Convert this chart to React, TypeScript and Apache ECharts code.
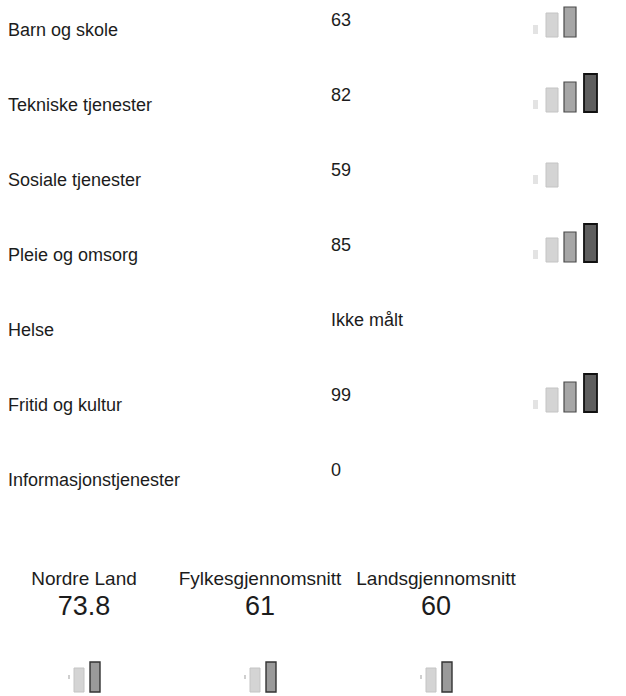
import React, { useEffect, useRef } from 'react';
import * as echarts from 'echarts';

const categories = [
  'Barn og skole',
  'Tekniske tjenester',
  'Sosiale tjenester',
  'Pleie og omsorg',
  'Helse',
  'Fritid og kultur',
  'Informasjonstjenester',
];
const values: (number | null)[] = [63, 82, 59, 85, null, 99, 0];
const missingLabel = 'Ikke målt';

const summaryNames = ['Nordre Land', 'Fylkesgjennomsnitt', 'Landsgjennomsnitt'];
const summaryValues = [73.8, 61, 60];

// a bar of the rating icon is shown when the value reaches its threshold
const levelThresholds = [1, 50, 60, 80];

const FONT = "'Liberation Sans', Arial, sans-serif";
const TEXT = '#1c1c1c';

function levelOf(v: number | null): number {
  if (v == null) return 0;
  return levelThresholds.filter((t) => v >= t).length;
}

type BarSpec = { dx: number; w: number; h: number; lift: number; fill: string; stroke?: string; lw?: number };

const TOP_ICON: BarSpec[] = [
  { dx: 1, w: 5, h: 9, lift: 3, fill: '#e3e3e3' },
  { dx: 14, w: 12, h: 24, lift: 0, fill: '#d4d4d4', stroke: '#c4c4c4', lw: 1 },
  { dx: 32, w: 12, h: 30, lift: 0, fill: '#a6a6a6', stroke: '#4a4a4a', lw: 1.2 },
  { dx: 52, w: 13, h: 38, lift: 0, fill: '#5e5e5e', stroke: '#111', lw: 1.8 },
];

const BOTTOM_ICON: BarSpec[] = [
  { dx: 0, w: 2, h: 4, lift: 13, fill: '#cfcfcf' },
  { dx: 6, w: 10, h: 24, lift: 0, fill: '#d4d4d4', stroke: '#c4c4c4', lw: 1 },
  { dx: 22, w: 10, h: 30, lift: 0, fill: '#9a9a9a', stroke: '#333', lw: 1.4 },
  { dx: 40, w: 11, h: 38, lift: 0, fill: '#5e5e5e', stroke: '#111', lw: 1.8 },
];

function iconBars(x0: number, bottom: number, level: number, spec: BarSpec[]) {
  const out: any[] = [];
  for (let k = 0; k < level && k < spec.length; k++) {
    const b = spec[k];
    out.push({
      type: 'rect',
      shape: { x: x0 + b.dx, y: bottom - b.lift - b.h, width: b.w, height: b.h },
      style: { fill: b.fill, stroke: b.stroke || null, lineWidth: b.lw || 0 },
    });
  }
  return out;
}

export default function App() {
  const ref = useRef<HTMLDivElement>(null);

  useEffect(() => {
    if (!ref.current) return;
    const chart = echarts.init(ref.current, undefined, { renderer: 'svg' });

    const option: any = {
      animation: false,
      backgroundColor: '#ffffff',
      grid: [
        { left: 0, top: 30, width: 626, height: 450 },
        { left: 84, top: 578, width: 352, height: 114 },
      ],
      xAxis: [
        { type: 'value', gridIndex: 0, min: 0, max: 626, show: false },
        { type: 'value', gridIndex: 1, min: 0, max: 2, show: false },
      ],
      yAxis: [
        { type: 'value', gridIndex: 0, min: 0, max: categories.length - 1, inverse: true, show: false },
        { type: 'value', gridIndex: 1, min: 0, max: 1, show: false },
      ],
      series: [
        {
          type: 'custom',
          xAxisIndex: 0,
          yAxisIndex: 0,
          data: categories.map((_, i) => [0, i]),
          renderItem: (params: any, api: any) => {
            const i = params.dataIndex;
            const cy = api.coord([0, i])[1];
            const v = values[i];
            return {
              type: 'group',
              children: [
                {
                  type: 'text',
                  style: {
                    x: 8, y: cy, text: categories[i], fontSize: 18, fontFamily: FONT,
                    fill: TEXT, align: 'left', verticalAlign: 'middle',
                  },
                },
                {
                  type: 'text',
                  style: {
                    x: 331, y: cy - 10, text: v == null ? missingLabel : String(v), fontSize: 18,
                    fontFamily: FONT, fill: TEXT, align: 'left', verticalAlign: 'middle',
                  },
                },
                ...iconBars(532, cy + 7, levelOf(v), TOP_ICON),
              ],
            };
          },
        },
        {
          type: 'custom',
          xAxisIndex: 1,
          yAxisIndex: 1,
          data: summaryNames.map((_, i) => [i, 0]),
          renderItem: (params: any, api: any) => {
            const i = params.dataIndex;
            const [cx, bottom] = api.coord([i, 0]);
            const v = summaryValues[i];
            return {
              type: 'group',
              children: [
                {
                  type: 'text',
                  style: {
                    x: cx, y: bottom - 114, text: summaryNames[i], fontSize: 19, fontFamily: FONT,
                    fill: TEXT, align: 'center', verticalAlign: 'middle',
                  },
                },
                {
                  type: 'text',
                  style: {
                    x: cx, y: bottom - 86, text: String(v), fontSize: 27, fontFamily: FONT,
                    fill: TEXT, align: 'center', verticalAlign: 'middle',
                  },
                },
                ...iconBars(cx - 16, bottom, levelOf(v), BOTTOM_ICON),
              ],
            };
          },
        },
      ],
    };

    chart.setOption(option);
    return () => chart.dispose();
  }, []);

  return (
    <div
      ref={ref}
      style={{ position: 'fixed', left: 0, top: 0, width: 626, height: 696, background: '#fff' }}
    />
  );
}
